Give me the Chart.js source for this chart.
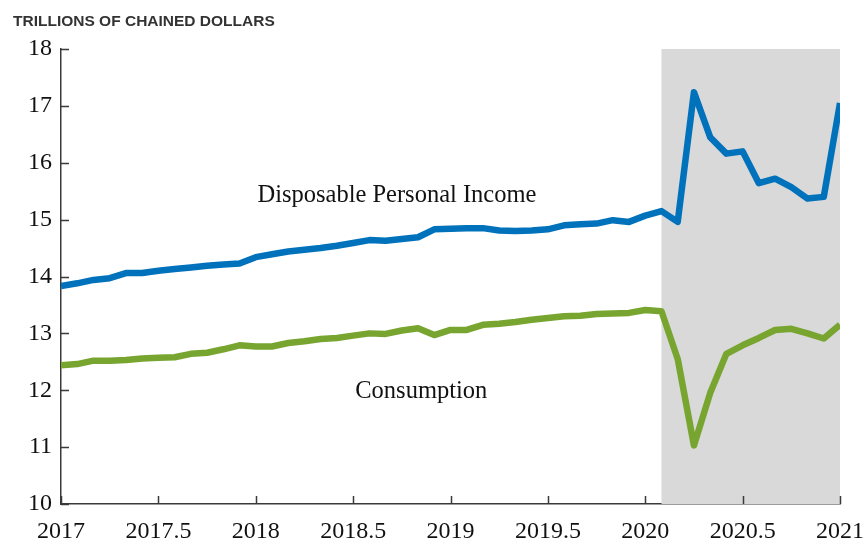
<!DOCTYPE html>
<html>
<head>
<meta charset="utf-8">
<script src="https://cdn.jsdelivr.net/npm/chart.js@4/dist/chart.umd.min.js"></script>
<style>
    html, body { margin: 0; padding: 0; background: #fff; }
    #wrap { width: 867px; height: 539px; position: relative; }
</style>
</head>
<body>
<div id="wrap"><canvas id="incomeChart"></canvas></div>
<script>
// monthly, Jan 2017 .. Jan 2021
var startYear = 2017;

var income = [
    13.83, 13.88, 13.94, 13.97, 14.06, 14.06, 14.10, 14.13, 14.16, 14.19, 14.21, 14.23,
    14.34, 14.39, 14.44, 14.47, 14.50, 14.54, 14.59, 14.64, 14.63, 14.66, 14.69, 14.83,
    14.84, 14.85, 14.85, 14.81, 14.80, 14.81, 14.83, 14.90, 14.92, 14.93, 14.99, 14.96,
    15.07, 15.15, 14.96, 17.24, 16.45, 16.16, 16.20, 15.64, 15.72, 15.57, 15.37, 15.40,
    17.05
];

var consumption = [
    12.44, 12.46, 12.52, 12.52, 12.53, 12.56, 12.57, 12.58, 12.64, 12.66, 12.72, 12.79,
    12.77, 12.77, 12.83, 12.86, 12.90, 12.92, 12.96, 13.00, 12.99, 13.05, 13.09, 12.97,
    13.06, 13.06, 13.15, 13.17, 13.20, 13.24, 13.27, 13.30, 13.31, 13.34, 13.35, 13.36,
    13.41, 13.39, 12.55, 11.03, 11.95, 12.64, 12.79, 12.92, 13.06, 13.08, 13.00, 12.91,
    13.15
];

var recession = [2020 + 1 / 12, 2021];

var yTicks = [10, 11, 12, 13, 14, 15, 16, 17, 18];
var xTicks = [2017, 2017.5, 2018, 2018.5, 2019, 2019.5, 2020, 2020.5, 2021];

var seriesLabels = [
    { text: 'Disposable Personal Income', x: 2018.725, y: 15.31 },
    { text: 'Consumption', x: 2018.85, y: 11.86 }
];

var titleText = 'TRILLIONS OF CHAINED DOLLARS';

function toPoints(values) {
    var pts = [];
    for (var i = 0; i < values.length; i += 1) {
        pts.push({ x: startYear + i / 12, y: values[i] });
    }
    return pts;
}

var serif = '"Liberation Serif", "Times New Roman", serif';

// grey band + inward ticks + text labels
var decorPlugin = {
    id: 'decor',
    beforeDatasetsDraw: function (chart) {
        var ctx = chart.ctx;
        var xs = chart.scales.x;
        var area = chart.chartArea;
        var x0 = xs.getPixelForValue(recession[0]);
        var x1 = xs.getPixelForValue(recession[1]);
        ctx.save();
        ctx.fillStyle = '#d9d9d9';
        ctx.fillRect(x0, area.top, x1 - x0, area.bottom - area.top);
        ctx.restore();
    },
    afterDraw: function (chart) {
        var ctx = chart.ctx;
        var xs = chart.scales.x;
        var ys = chart.scales.y;
        var area = chart.chartArea;

        ctx.save();
        ctx.strokeStyle = '#3a3a3a';
        ctx.lineWidth = 1.5;
        ctx.beginPath();
        yTicks.forEach(function (v) {
            var py = Math.round(ys.getPixelForValue(v)) + 0.5;
            ctx.moveTo(area.left, py);
            ctx.lineTo(area.left + 8, py);
        });
        xTicks.forEach(function (v) {
            var px = Math.round(xs.getPixelForValue(v)) + 0.5;
            ctx.moveTo(px, area.bottom);
            ctx.lineTo(px, area.bottom - 8);
        });
        ctx.stroke();

        ctx.fillStyle = '#111';
        ctx.font = '24.5px ' + serif;
        ctx.textAlign = 'center';
        ctx.textBaseline = 'alphabetic';
        seriesLabels.forEach(function (l) {
            ctx.fillText(l.text, xs.getPixelForValue(l.x), ys.getPixelForValue(l.y));
        });

        ctx.fillStyle = '#333';
        ctx.font = 'bold 15.5px "Liberation Sans", Arial, sans-serif';
        ctx.textAlign = 'left';
        ctx.fillText(titleText, 13, 26);
        ctx.restore();
    }
};

var ctx = document.getElementById('incomeChart').getContext('2d');

var chart = new Chart(ctx, {
    type: 'line',
    data: {
        datasets: [
            {
                label: 'Disposable Personal Income',
                data: toPoints(income),
                borderColor: '#0072bc',
                borderWidth: 6.5,
                borderJoinStyle: 'round',
                pointRadius: 0,
                tension: 0
            },
            {
                label: 'Consumption',
                data: toPoints(consumption),
                borderColor: '#77a52f',
                borderWidth: 6.5,
                borderJoinStyle: 'round',
                pointRadius: 0,
                tension: 0
            }
        ]
    },
    options: {
        responsive: true,
        maintainAspectRatio: false,
        animation: false,
        layout: { padding: { left: 0, top: 49, right: 27, bottom: 0 } },
        plugins: {
            legend: { display: false },
            tooltip: { enabled: false }
        },
        scales: {
            x: {
                type: 'linear',
                min: 2017,
                max: 2021,
                afterFit: function (scale) {
                    scale.height = 35;
                    scale.paddingLeft = 0;
                    scale.paddingRight = 0;
                },
                afterBuildTicks: function (scale) {
                    scale.ticks = xTicks.map(function (v) { return { value: v }; });
                },
                ticks: {
                    autoSkip: false,
                    maxRotation: 0,
                    padding: 13,
                    color: '#111',
                    font: { family: serif, size: 24 },
                    callback: function (value) { return String(value); }
                },
                grid: { display: false, drawTicks: false },
                border: { display: true, color: '#3a3a3a', width: 1.5 }
            },
            y: {
                min: 10,
                max: 18,
                afterFit: function (scale) {
                    scale.width = 61;
                    scale.paddingTop = 0;
                    scale.paddingBottom = 0;
                },
                afterBuildTicks: function (scale) {
                    scale.ticks = yTicks.map(function (v) { return { value: v }; });
                },
                ticks: {
                    padding: 9,
                    color: '#111',
                    font: { family: serif, size: 24 },
                    callback: function (value) { return String(value); }
                },
                grid: { display: false, drawTicks: false },
                border: { display: true, color: '#3a3a3a', width: 1.5 }
            }
        }
    },
    plugins: [decorPlugin]
});
</script>
</body>
</html>
